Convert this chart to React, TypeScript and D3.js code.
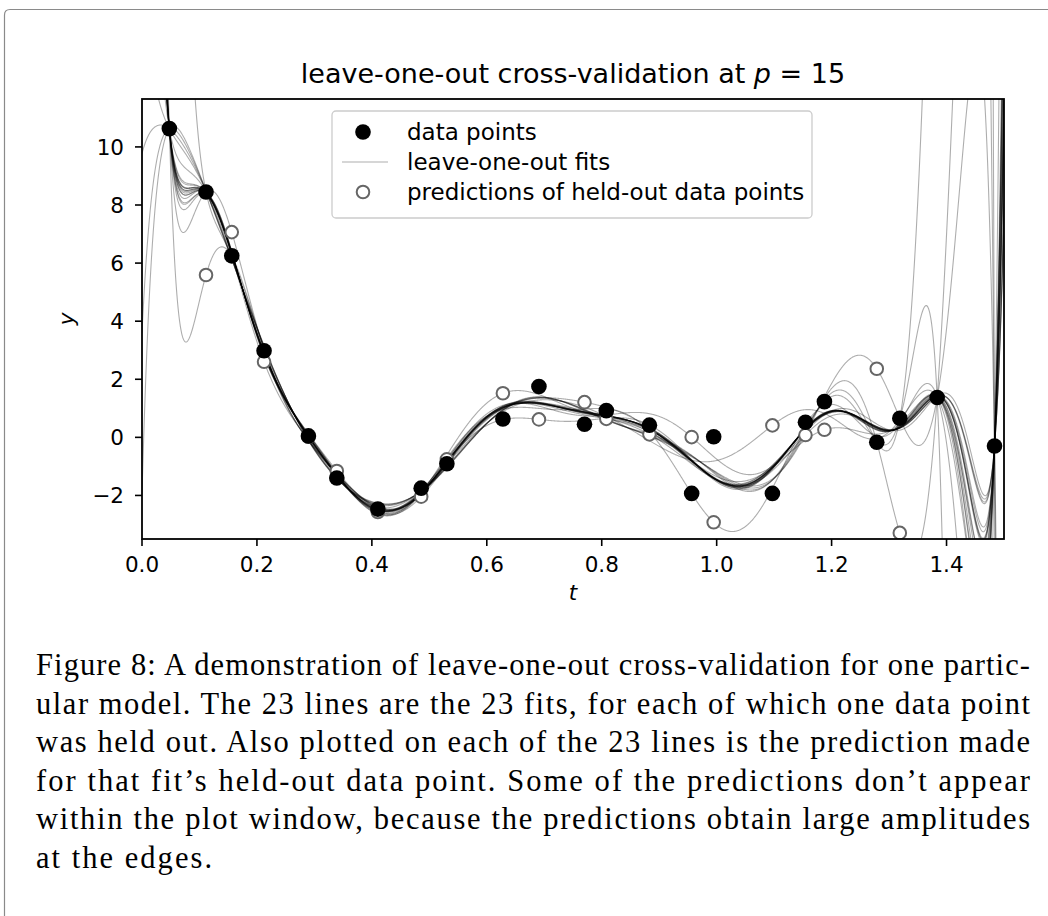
import React from "react";
import * as d3 from "d3";

// ---- data ----
const tData = [0.0476, 0.1114, 0.1562, 0.2124, 0.2896, 0.339, 0.4104, 0.4858, 0.5305, 0.628, 0.6907, 0.77, 0.808, 0.883, 0.9565, 0.9948, 1.097, 1.1545, 1.1875, 1.2786, 1.3187, 1.3837, 1.4835];
const yData = [10.63, 8.45, 6.25, 2.98, 0.05, -1.4, -2.47, -1.75, -0.91, 0.63, 1.75, 0.45, 0.92, 0.42, -1.93, 0.02, -1.93, 0.52, 1.23, -0.17, 0.66, 1.37, -0.3];
const nParams = 15;
const xTicks = [0.0, 0.2, 0.4, 0.6, 0.8, 1.0, 1.2, 1.4];
const yTicks = [-2, 0, 2, 4, 6, 8, 10];
const legendLabels = ["data points", "leave-one-out fits", "predictions of held-out data points"];
const captionLines = [
  "Figure 8: A demonstration of leave-one-out cross-validation for one partic-",
  "ular model. The 23 lines are the 23 fits, for each of which one data point",
  "was held out. Also plotted on each of the 23 lines is the prediction made",
  "for that fit\u2019s held-out data point. Some of the predictions don\u2019t appear",
  "within the plot window, because the predictions obtain large amplitudes",
  "at the edges.",
];

// ---- least squares with a Chebyshev basis ----
const T0 = 0, T1 = 1.5;
function basis(t: number): number[] {
  const x = (2 * (t - T0)) / (T1 - T0) - 1;
  const out = [1, x];
  for (let k = 2; k < nParams; k++) out.push(2 * x * out[k - 1] - out[k - 2]);
  return out.slice(0, nParams);
}
function lstsq(A: number[][], b: number[]): number[] {
  const m = A.length, n = A[0].length;
  const R = A.map((r) => r.slice());
  const y = b.slice();
  for (let k = 0; k < n; k++) {
    let norm = 0;
    for (let i = k; i < m; i++) norm += R[i][k] * R[i][k];
    norm = Math.sqrt(norm);
    const alpha = R[k][k] > 0 ? -norm : norm;
    const v = new Array(m).fill(0);
    for (let i = k; i < m; i++) v[i] = R[i][k];
    v[k] -= alpha;
    let vn = 0;
    for (let i = k; i < m; i++) vn += v[i] * v[i];
    if (vn === 0) continue;
    for (let j = k; j < n; j++) {
      let s = 0;
      for (let i = k; i < m; i++) s += v[i] * R[i][j];
      s = (2 * s) / vn;
      for (let i = k; i < m; i++) R[i][j] -= s * v[i];
    }
    let s = 0;
    for (let i = k; i < m; i++) s += v[i] * y[i];
    s = (2 * s) / vn;
    for (let i = k; i < m; i++) y[i] -= s * v[i];
  }
  const x = new Array(n).fill(0);
  for (let k = n - 1; k >= 0; k--) {
    let s = y[k];
    for (let j = k + 1; j < n; j++) s -= R[k][j] * x[j];
    x[k] = s / R[k][k];
  }
  return x;
}
const evalFit = (c: number[], t: number) => basis(t).reduce((s, v, i) => s + v * c[i], 0);

const W = 1048, H = 916;
const M = { left: 142, right: 1004, top: 99, bottom: 539 };

export default function App() {
  const x = d3.scaleLinear().domain([0, 1.5]).range([M.left, M.right]);
  const y = d3.scaleLinear().domain([-3.5, 11.65]).range([M.bottom, M.top]);

  const fits = tData.map((_, k) => {
    const A: number[][] = [], b: number[] = [];
    tData.forEach((t, i) => {
      if (i !== k) { A.push(basis(t)); b.push(yData[i]); }
    });
    return lstsq(A, b);
  });
  const grid = d3.range(0, 2001).map((i) => (1.5 * i) / 2000);
  const line = d3.line<[number, number]>().x((d) => x(d[0])).y((d) => y(Math.max(-300, Math.min(300, d[1]))));
  const preds = fits.map((c, k) => evalFit(c, tData[k]));

  const font = "'DejaVu Sans', sans-serif";
  const tickFs = 21.5;
  const lineStyle = { stroke: "#000", strokeOpacity: 0.32, strokeWidth: 1.1 };
  return (
    <svg width={W} height={H} style={{ position: "absolute", left: 0, top: 0, background: "#fff" }} fontFamily={font}>
      <rect x={0} y={0} width={W} height={H} fill="#fff" />
      <path d={`M4.5,${H} L4.5,15 Q4.5,9.5 10,9.5 L${W},9.5`} fill="none" stroke="#8a8a8a" strokeWidth={1.2} />
      <defs>
        <clipPath id="plotclip">
          <rect x={M.left} y={M.top} width={M.right - M.left} height={M.bottom - M.top} />
        </clipPath>
      </defs>
      <text x={(M.left + M.right) / 2} y={83} textAnchor="middle" fontSize={27} fill="#000">
        leave-one-out cross-validation at <tspan fontStyle="italic">p</tspan> = 15
      </text>
      <g clipPath="url(#plotclip)">
        {fits.map((c, k) => (
          <path key={k} d={line(grid.map((t) => [t, evalFit(c, t)]))!} fill="none" {...lineStyle} />
        ))}
        {preds.map((p, k) => (
          <circle key={k} cx={x(tData[k])} cy={y(p)} r={6.3} fill="#fff" stroke="#666" strokeWidth={2} />
        ))}
        {tData.map((t, k) => (
          <circle key={k} cx={x(t)} cy={y(yData[k])} r={7.8} fill="#000" />
        ))}
      </g>
      {/* axes */}
      <rect x={M.left} y={M.top} width={M.right - M.left} height={M.bottom - M.top} fill="none" stroke="#000" strokeWidth={1.8} />
      {xTicks.map((v) => (
        <g key={v}>
          <line x1={x(v)} x2={x(v)} y1={M.bottom} y2={M.bottom + 7} stroke="#000" strokeWidth={1.6} />
          <text x={x(v)} y={572} textAnchor="middle" fontSize={tickFs}>{v.toFixed(1)}</text>
        </g>
      ))}
      {yTicks.map((v) => (
        <g key={v}>
          <line x1={M.left - 7} x2={M.left} y1={y(v)} y2={y(v)} stroke="#000" strokeWidth={1.6} />
          <text x={124} y={y(v)} dy="0.36em" textAnchor="end" fontSize={tickFs}>{v < 0 ? "\u2212" + Math.abs(v) : String(v)}</text>
        </g>
      ))}
      <text x={(M.left + M.right) / 2} y={600} textAnchor="middle" fontSize={tickFs} fontStyle="italic">t</text>
      <text transform={`translate(74,${(M.top + M.bottom) / 2}) rotate(-90)`} textAnchor="middle" fontSize={tickFs} fontStyle="italic">y</text>
      {/* legend */}
      <g>
        <rect x={332} y={111} width={480} height={107} rx={4} fill="#fff" fillOpacity={0.8} stroke="#cccccc" strokeWidth={1.3} />
        <circle cx={363} cy={132} r={7.8} fill="#000" />
        <line x1={342} x2={388} y1={162} y2={162} {...lineStyle} />
        <circle cx={363} cy={192} r={6.3} fill="#fff" stroke="#666" strokeWidth={2} />
        {legendLabels.map((l, i) => (
          <text key={l} x={407} y={132 + i * 30} dy="0.36em" fontSize={23}>{l}</text>
        ))}
      </g>
      {/* caption */}
      {captionLines.map((l, i) => (
        <text key={i} x={36} y={675 + i * 38.5} fontFamily="'Liberation Serif', 'Times New Roman', serif" fontSize={30.5}
          textLength={i < captionLines.length - 1 ? 994 : 176} lengthAdjust="spacing">{l}</text>
      ))}
    </svg>
  );
}
